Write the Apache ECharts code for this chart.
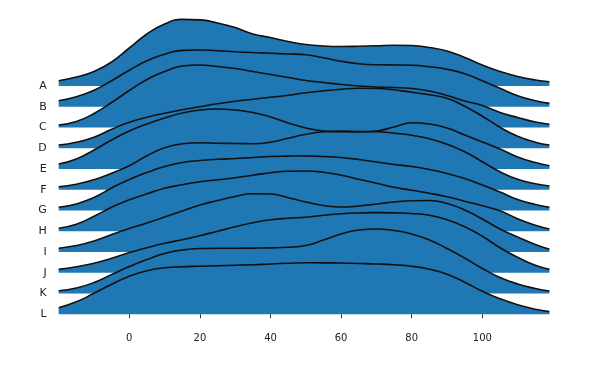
<!DOCTYPE html>
<html><head><meta charset="utf-8">
<script src="https://cdn.jsdelivr.net/npm/echarts@6/dist/echarts.min.js"></script>
<style>html,body{margin:0;padding:0;background:#fff}#c{width:594px;height:370px}</style>
</head><body><div id="c"></div>
<script>
// x positions of the density samples
const xValues = [-20,-15,-10,-5,0,5,10,15,20,25,30,35,40,45,50,55,60,65,70,75,80,85,90,95,100,105,110,115,119];
const categories = ['A','B','C','D','E','F','G','H','I','J','K','L'];
const xTicks = [0, 20, 40, 60, 80, 100];
// ridge heights (density, in chart units) for each category
const A = [5.3,9,14.5,24,38,52,62,66.6,66.1,63,58.5,52,48.5,44.5,41.5,40,39.5,39.8,40.3,40.8,40.5,38.5,35,28.5,21,14.5,9.5,6,4.3];
const B = [6,10,16.5,26,36.5,46,52.5,56.4,56.8,56,55,54.2,53.5,52.8,52,49,45.5,43,42,41.8,41.5,40,37.5,33,26,18.5,11,6,3.4];
const C = [2.5,6,14,25,37,48,56,61.5,62.5,61,59,56,53,50,47,45,43,41.5,40.5,40,39,36.5,32,26.5,22,15,10,5.5,3.2];
const D = [3.25,6,11,19,26,31,35,38.5,41.5,44.5,47,49,51,53,55.5,57.5,59,60,59.8,58.5,56,53.5,50,42,32,21,12,6,3.25];
const E = [5,10,19,29,38,45,51,56,59,60,59,56.5,52,46,41,38,37.2,37,38,42,46.2,45,41,34,27,20,12,6.5,3.3];
const F = [3,5.5,10,16.5,24,34,42,46,47,46.5,46.3,46,47.5,51.5,55.5,58,58.6,58.3,58,56.5,54.5,51,45.5,38,28,18,10.5,6,3.75];
const G = [3.2,6.5,13,22.5,31,38,44,48,50,51.2,52,53,54,54.4,54.6,54,53,51,48.5,46,44,41,37,32,25.5,18.5,11,6,3.2];
const H = [3,7,15,24,31.5,37.5,43,46.5,49.5,51.5,53.5,56,58.5,60,60.2,59,56,52,48,44,41,38,34.5,30,25.5,20.5,12.5,6,2.25];
const I = [3.7,6.5,11,17.5,23.5,29,35,41,47,51.5,55.5,58.3,58,54.3,50,46.5,45,46,48,50,51.3,51.5,48.5,42,33,23,15,7.5,2.7];
const J = [3.4,6,9.5,14.5,20.3,25,29.5,33,37,41.5,46,50,53,54.5,55.5,57.5,59,59.8,60.1,59.9,59.3,57.5,53,46,36.5,25,15.5,7.5,3.4];
const K = [2.8,5.5,11,19,27,34,40,43.5,45,45.2,45.3,45.4,45.6,46.2,48,53.5,59.5,63.5,64.5,63,59.5,53.5,45,35.5,25,16,9.5,5,2.5];
const L = [6.6,12.5,21,30,38,43.5,46.5,47.5,48,48.5,49,49.5,50.3,51,51.5,51.4,51.2,50.8,50.3,49.5,48,45,40,32,23,15.5,9.5,5,2.6];
const ridges = [A,B,C,D,E,F,G,H,I,J,K,L];

const step = 20.75; // vertical spacing between ridge baselines (same units as heights)
const n = categories.length;
const series = ridges.map((vals, i) => {
  const base = (n - 1 - i) * step;
  return {
    type: 'line', silent: true, showSymbol: false, symbol: 'none',
    smooth: 0.5,
    data: xValues.map((x, k) => [x, base + vals[k]]),
    lineStyle: { color: '#111', width: 1.6 },
    areaStyle: { color: '#1f77b4', opacity: 1, origin: base }
  };
});
const baseValues = categories.map((c, i) => (n - 1 - i) * step);

const chart = echarts.init(document.getElementById('c'), null, { renderer: 'canvas' });
chart.setOption({
  animation: false,
  grid: { left: 58.7, right: 44.6, top: 14, bottom: 55.75 },
  xAxis: {
    type: 'value', min: -20, max: 119,
    axisLine: { show: false }, splitLine: { show: false },
    offset: 11,
    axisTick: { show: true, length: 4, lineStyle: { color: '#333' }, customValues: xTicks },
    axisLabel: { customValues: xTicks, color: '#222', fontSize: 10, fontFamily: 'DejaVu Sans', margin: 8 }
  },
  yAxis: {
    type: 'value', min: 0, max: (n - 1) * step + 72,
    axisLine: { show: false }, splitLine: { show: false }, axisTick: { show: false },
    axisLabel: {
      customValues: baseValues, color: '#222', fontSize: 11, fontFamily: 'DejaVu Sans', margin: 12,
      formatter: v => categories[n - 1 - Math.round(v / step)]
    }
  },
  series: series
});
</script></body></html>
